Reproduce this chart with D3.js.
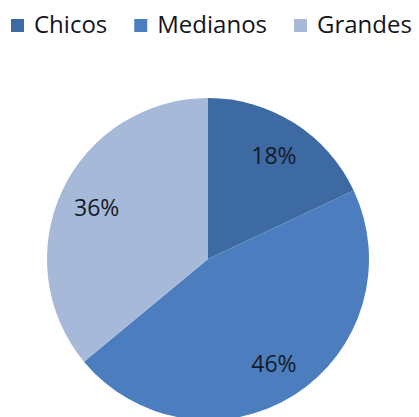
<!DOCTYPE html>
<html>
<head>
<meta charset="utf-8">
<script src="https://cdn.jsdelivr.net/npm/d3@7"></script>
<style>
  html, body { margin: 0; padding: 0; background: #ffffff; }
  svg { display: block; }
</style>
</head>
<body>
<svg id="chart" width="419" height="417"></svg>
<script>
const categories = ["Chicos", "Medianos", "Grandes"];
const values = [18, 46, 36];
const labels = ["18%", "46%", "36%"];
const colors = ["#3e6aa3", "#4c7ebf", "#a7b9d9"];

const W = 419, H = 417;
const cx = 208, cy = 259, R = 161;
const svg = d3.select("#chart");
const font = "'Open Sans', 'Liberation Sans', sans-serif";

const color = d3.scaleOrdinal().domain(categories).range(colors);
const pie = d3.pie().sort(null).value(d => d.value);
const data = categories.map((c, i) => ({ cat: c, value: values[i], label: labels[i] }));
const arcs = pie(data);
const arc = d3.arc().innerRadius(0).outerRadius(R);
const labelArc = d3.arc().innerRadius(123).outerRadius(123);

const g = svg.append("g").attr("transform", `translate(${cx},${cy})`);
g.selectAll("path.slice").data(arcs).enter().append("path")
  .attr("class", "slice")
  .attr("d", arc)
  .attr("fill", d => color(d.data.cat));

g.selectAll("text.lbl").data(arcs).enter().append("text")
  .attr("class", "lbl")
  .attr("x", d => labelArc.centroid(d)[0])
  .attr("y", d => labelArc.centroid(d)[1])
  .attr("text-anchor", "middle")
  .attr("dominant-baseline", "central")
  .attr("font-family", font)
  .attr("font-size", 23)
  .attr("fill", "#141a26")
  .text(d => d.data.label);

// Legend
const legend = svg.append("g");
let x = 11;
categories.forEach((c, i) => {
  legend.append("rect")
    .attr("x", x).attr("y", 19).attr("width", 13).attr("height", 13)
    .attr("fill", color(c));
  const t = legend.append("text")
    .attr("x", x + 23).attr("y", 33)
    .attr("font-family", font)
    .attr("font-size", 24)
    .attr("fill", "#141420")
    .text(c);
  const w = t.node().getComputedTextLength();
  x = x + 23 + w + 27;
});
</script>
</body>
</html>
